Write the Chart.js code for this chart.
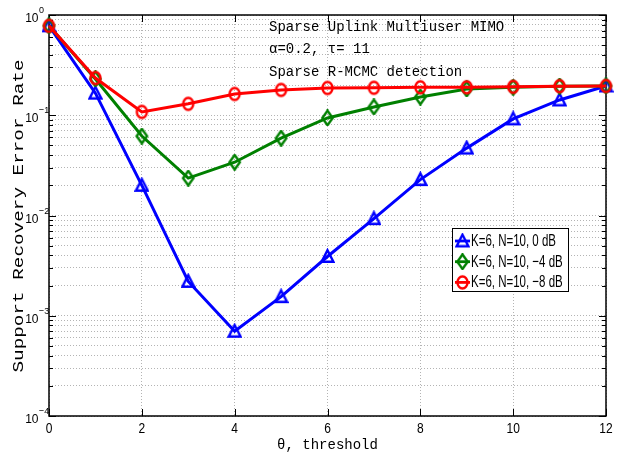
<!DOCTYPE html>
<html>
<head>
<meta charset="utf-8">
<script src="https://cdn.jsdelivr.net/npm/chart.js@4.4.1/dist/chart.umd.min.js"></script>
<style>
  html, body { margin: 0; padding: 0; background: #fff; }
  canvas { display: block; }
</style>
</head>
<body>
<canvas id="serChart" width="627" height="457"></canvas>
<script>
// threshold values and error rates for each SNR
const thresholds = [0, 1, 2, 3, 4, 5, 6, 7, 8, 9, 10, 11, 12];
const ser0dB  = [0.78, 0.166, 0.020, 0.0022, 0.00070, 0.00155, 0.0039, 0.0093, 0.0228, 0.047, 0.092, 0.142, 0.196];
const serM4dB = [0.78, 0.230, 0.062, 0.0236, 0.034, 0.059, 0.094, 0.121, 0.152, 0.183, 0.190, 0.195, 0.196];
const serM8dB = [0.78, 0.235, 0.108, 0.130, 0.163, 0.179, 0.187, 0.188, 0.190, 0.190, 0.192, 0.195, 0.196];
const seriesLabels = ['K=6, N=10, 0 dB', 'K=6, N=10, \u22124 dB', 'K=6, N=10, \u22128 dB'];

const xTicks = [0, 2, 4, 6, 8, 10, 12];
const yExponents = [-4, -3, -2, -1, 0];
const infoLines = ['Sparse Uplink Multiuser MIMO', '\u03b1=0.2, \u03c4= 11', 'Sparse R-MCMC detection'];

const BLUE = '#0000ff', GREEN = '#008000', RED = '#ff0000';
const MONO = '"Liberation Mono", "DejaVu Sans Mono", monospace';
const SANS = '"Liberation Sans", Arial, sans-serif';

// open markers, a bit taller than wide
function marker(kind, color) {
  const c = document.createElement('canvas');
  const w = 15, h = 17;
  c.width = w; c.height = h;
  const g = c.getContext('2d');
  g.strokeStyle = color;
  g.lineWidth = 2.4;
  g.beginPath();
  if (kind === 'tri') {
    g.moveTo(w / 2, 2.2); g.lineTo(w - 1.6, h - 3.2); g.lineTo(1.6, h - 3.2); g.closePath();
  } else if (kind === 'dia') {
    g.moveTo(w / 2, 1.2); g.lineTo(w - 2.3, h / 2); g.lineTo(w / 2, h - 1.2); g.lineTo(2.3, h / 2); g.closePath();
  } else {
    g.ellipse(w / 2, h / 2, 5, 6, 0, 0, Math.PI * 2);
  }
  g.stroke();
  return c;
}
const markers = [marker('tri', BLUE), marker('dia', GREEN), marker('circ', RED)];

function pts(vals) {
  return thresholds.map((t, i) => ({ x: t, y: vals[i] }));
}

// text drawn with a vertical stretch factor
function tallText(ctx, str, x, y, font, sy, align, baseline) {
  ctx.save();
  ctx.translate(x, y);
  ctx.scale(1, sy);
  ctx.font = font;
  ctx.textAlign = align;
  ctx.textBaseline = baseline;
  ctx.fillStyle = '#000';
  ctx.fillText(str, 0, 0);
  ctx.restore();
}

const framePlugin = {
  id: 'frame',
  beforeDatasetsDraw(chart) {
    const { ctx, chartArea: a, scales } = chart;
    const xs = scales.x, ys = scales.y;
    ctx.save();
    ctx.strokeStyle = '#000';
    ctx.lineWidth = 1;
    // inward ticks on x
    xTicks.forEach(t => {
      const px = Math.round(xs.getPixelForValue(t)) + 0.5;
      ctx.beginPath();
      ctx.moveTo(px, a.bottom); ctx.lineTo(px, a.bottom - 7);
      ctx.moveTo(px, a.top); ctx.lineTo(px, a.top + 7);
      ctx.stroke();
    });
    // inward ticks on y, decades longer
    ys.ticks.forEach(tk => {
      const py = Math.round(ys.getPixelForValue(tk.value)) + 0.5;
      const len = tk.major ? 7 : 4;
      ctx.beginPath();
      ctx.moveTo(a.left, py); ctx.lineTo(a.left + len, py);
      ctx.moveTo(a.right, py); ctx.lineTo(a.right - len, py);
      ctx.stroke();
    });
    ctx.lineWidth = 1.5;
    ctx.strokeRect(a.left, a.top, a.right - a.left, a.bottom - a.top);
    ctx.restore();
  },
  afterDraw(chart) {
    const { ctx, chartArea: a, scales } = chart;
    const xs = scales.x, ys = scales.y;

    // x tick labels
    xTicks.forEach(t => {
      tallText(ctx, String(t), xs.getPixelForValue(t), a.bottom + 17, '12px ' + SANS, 1.15, 'center', 'alphabetic');
    });
    // y tick labels as powers of ten
    yExponents.forEach(e => {
      const py = ys.getPixelForValue(Math.pow(10, e));
      tallText(ctx, '10', 38.5, py + 7, '12px ' + SANS, 1.1, 'right', 'alphabetic');
      const ex = e < 0 ? '\u2212' + (-e) : String(e);
      tallText(ctx, ex, 39, py - 2, '9px ' + SANS, 1.1, 'left', 'alphabetic');
    });

    // axis titles
    tallText(ctx, '\u03b8, threshold', (a.left + a.right) / 2, 449, '14px ' + MONO, 1.1, 'center', 'alphabetic');
    ctx.save();
    ctx.translate(23, 216);
    ctx.rotate(-Math.PI / 2);
    ctx.scale(1.38, 1);
    ctx.font = '14px ' + MONO;
    ctx.textAlign = 'center';
    ctx.textBaseline = 'alphabetic';
    ctx.fillStyle = '#000';
    ctx.fillText('Support Recovery Error Rate', 0, 0);
    ctx.restore();

    // annotation block
    infoLines.forEach((s, i) => {
      tallText(ctx, s, 269, 30.5 + i * 22.8, '14px ' + MONO, 1.1, 'left', 'alphabetic');
    });

    // legend
    const lx = 452, ly = 228, lw = 116, lh = 63;
    ctx.save();
    ctx.fillStyle = '#fff';
    ctx.fillRect(lx, ly, lw, lh);
    ctx.strokeStyle = '#000';
    ctx.lineWidth = 1;
    ctx.strokeRect(lx + 0.5, ly + 0.5, lw, lh);
    chart.data.datasets.forEach((ds, i) => {
      const cy = 241 + i * 20.7;
      ctx.strokeStyle = ds.borderColor;
      ctx.lineWidth = 2.8;
      ctx.beginPath();
      ctx.moveTo(455, cy); ctx.lineTo(470, cy);
      ctx.stroke();
      const m = markers[i];
      ctx.drawImage(m, 462.5 - m.width / 2, cy - m.height / 2);
      tallText(ctx, ds.label, 471, cy + 5, '11.5px ' + SANS, 1.45, 'left', 'alphabetic');
    });
    ctx.restore();
  }
};

new Chart('serChart', {
  type: 'line',
  data: {
    datasets: [
      { label: seriesLabels[0], data: pts(ser0dB), borderColor: BLUE, pointStyle: markers[0], order: 3 },
      { label: seriesLabels[1], data: pts(serM4dB), borderColor: GREEN, pointStyle: markers[1], order: 2 },
      { label: seriesLabels[2], data: pts(serM8dB), borderColor: RED, pointStyle: markers[2], order: 1 }
    ].map(d => Object.assign({
      borderWidth: 3,
      backgroundColor: 'transparent',
      tension: 0,
      clip: false,
      pointRadius: 7,
      pointHoverRadius: 7
    }, d))
  },
  options: {
    responsive: false,
    animation: false,
    events: [],
    layout: { padding: { top: 15, right: 21, left: 0, bottom: 0 } },
    plugins: { legend: { display: false }, tooltip: { enabled: false } },
    scales: {
      x: {
        type: 'linear',
        min: 0,
        max: 12,
        afterBuildTicks: s => { s.ticks = xTicks.map(v => ({ value: v })); },
        afterFit: s => { s.height = 41; },
        ticks: { display: false },
        grid: { color: '#b4b4b4', lineWidth: 1, drawTicks: false },
        border: { display: false, dash: [1, 2] }
      },
      y: {
        type: 'logarithmic',
        min: 1e-4,
        max: 1,
        afterBuildTicks: s => {
          const tk = [];
          yExponents.forEach(e => {
            for (let k = 1; k <= 9; k++) {
              const v = k * Math.pow(10, e);
              if (v <= 1) tk.push({ value: v, major: k === 1 });
            }
          });
          s.ticks = tk;
        },
        afterFit: s => { s.width = 49; },
        ticks: { display: false },
        grid: { color: '#b4b4b4', lineWidth: 1, drawTicks: false },
        border: { display: false, dash: [1, 2] }
      }
    }
  },
  plugins: [framePlugin]
});
</script>
</body>
</html>
